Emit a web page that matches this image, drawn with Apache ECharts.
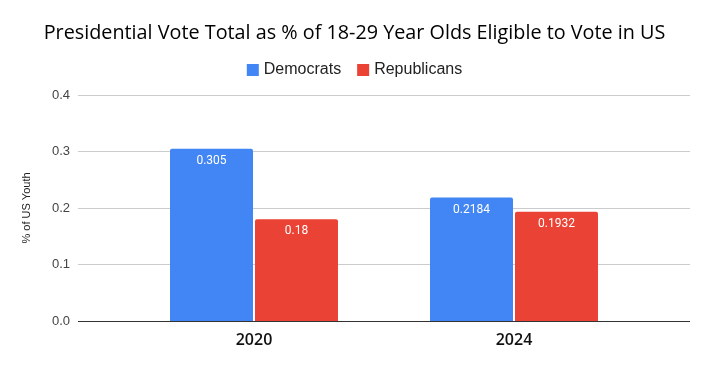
<!DOCTYPE html>
<html><head><meta charset="utf-8">
<script src="https://cdn.jsdelivr.net/npm/echarts@6/dist/echarts.min.js"></script>
<style>html,body{margin:0;padding:0;background:#fff}#c{width:709px;height:371px}</style>
</head><body><div id="c"></div>
<script>
const categories = ['2020', '2024'];
const democrats = [0.305, 0.2184];
const republicans = [0.18, 0.1932];
const yTicks = [0, 0.1, 0.2, 0.3, 0.4];

const chart = echarts.init(document.getElementById('c'));
const font = 'Roboto, Arial, sans-serif';
const sans = '"Open Sans", "Noto Sans", sans-serif';
const arial = '"Liberation Sans", Arial, sans-serif';
chart.setOption({
  animation: false,
  title: {
    text: 'Presidential Vote Total as % of 18-29 Year Olds Eligible to Vote in US',
    left: 'center', top: 18,
    textStyle: { fontFamily: sans, fontSize: 19.8, fontWeight: 'normal', color: '#000' }
  },
  legend: {
    top: 57, left: 'center', itemWidth: 12, itemHeight: 12, itemGap: 16,
    icon: 'rect',
    textStyle: { fontFamily: arial, fontSize: 16, color: '#222' },
    data: ['Democrats', 'Republicans']
  },
  grid: [
    { left: 78, right: 19, top: 95, bottom: 50 },
    { left: 124, right: 65, top: 95, bottom: 50 }
  ],
  xAxis: [
    { gridIndex: 0, type: 'category', data: categories, show: false },
    { gridIndex: 1, type: 'category', data: categories,
      axisLine: { show: false }, axisTick: { show: false },
      axisLabel: { fontFamily: sans, fontSize: 16, fontWeight: 600, color: '#111', margin: 11 } }
  ],
  yAxis: [
    { gridIndex: 0, type: 'value', min: yTicks[0], max: yTicks[yTicks.length - 1], interval: 0.1,
      name: '% of US Youth', nameLocation: 'middle', nameGap: 46,
      nameTextStyle: { fontFamily: arial, fontSize: 11, color: '#222' },
      axisLabel: { fontFamily: arial, fontSize: 13, color: '#444', margin: 8, formatter: v => v.toFixed(1) },
      axisLine: { show: false }, axisTick: { show: false },
      splitLine: { lineStyle: { color: '#cccccc', width: 1 } } },
    { gridIndex: 1, type: 'value', min: yTicks[0], max: yTicks[yTicks.length - 1], interval: 0.1,
      show: false, splitLine: { show: false } }
  ],
  series: [
    { name: 'Democrats', type: 'bar', xAxisIndex: 1, yAxisIndex: 1, data: democrats,
      barWidth: 83, barGap: '2.4%',
      itemStyle: { color: '#4285F4', borderRadius: [2, 2, 0, 0] },
      label: { show: true, position: 'insideTop', distance: 6, color: '#fff', fontFamily: font, fontSize: 12 } },
    { name: 'Republicans', type: 'bar', xAxisIndex: 1, yAxisIndex: 1, data: republicans,
      barWidth: 83, barGap: '2.4%',
      itemStyle: { color: '#EA4335', borderRadius: [2, 2, 0, 0] },
      label: { show: true, position: 'insideTop', distance: 6, color: '#fff', fontFamily: font, fontSize: 12 } },
    { type: 'line', xAxisIndex: 0, yAxisIndex: 0, data: [], silent: true,
      markLine: { symbol: 'none', silent: true, label: { show: false },
        lineStyle: { color: '#333', width: 1, type: 'solid' }, data: [{ yAxis: 0 }] } }
  ]
});
</script></body></html>
